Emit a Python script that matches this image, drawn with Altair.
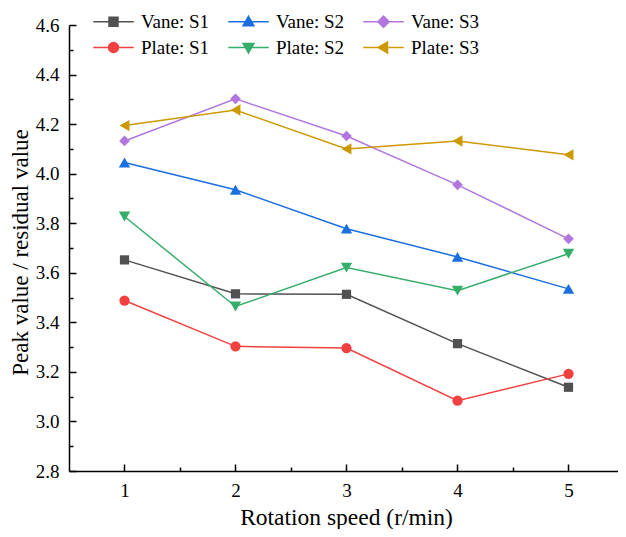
import altair as alt
import pandas as pd

speeds = [1, 2, 3, 4, 5]
series_names = ["Vane: S1", "Vane: S2", "Vane: S3", "Plate: S1", "Plate: S2", "Plate: S3"]
vane_s1 = [3.652, 3.515, 3.513, 3.314, 3.138]
vane_s2 = [4.045, 3.935, 3.778, 3.664, 3.535]
vane_s3 = [4.132, 4.302, 4.152, 3.955, 3.737]
plate_s1 = [3.488, 3.303, 3.296, 3.084, 3.192]
plate_s2 = [3.827, 3.464, 3.621, 3.528, 3.677]
plate_s3 = [4.194, 4.257, 4.100, 4.132, 4.076]
colors = ["#515151", "#1A6FDF", "#B177DE", "#F14040", "#37AD6B", "#CC9900"]
shapes = ["square", "triangle-up", "diamond", "circle", "triangle-down", "triangle-left"]
marker_sizes = [85, 130, 115, 105, 130, 130]
legend_paths = [
    "M-4.5,0H-1M1,0H4.5M-1,-1H1V1H-1Z",
    "M-4.5,0H-0.65M0.65,0H4.5M0,-1.2L1.2,0.9H-1.2Z",
    "M-4.5,0H-1.25M1.25,0H4.5M0,-1.25L1.25,0L0,1.25L-1.25,0Z",
    "M-4.5,0H-1.1M1.1,0H4.5M1.1,0A1.1,1.1,0,1,1,-1.1,0A1.1,1.1,0,1,1,1.1,0Z",
    "M-4.5,0H-0.65M0.65,0H4.5M0,1.2L1.2,-0.9H-1.2Z",
    "M-4.5,0H-1.1M1.1,0H4.5M-1.2,0L0.9,-1.2V1.2Z",
]
# legend entries fill column by column (2 rows), so interleave Vane / Plate
legend_order = [0, 3, 1, 4, 2, 5]
x_major = [1, 2, 3, 4, 5]
x_minor = [1.5, 2.5, 3.5, 4.5]
y_major = [2.8, 3.0, 3.2, 3.4, 3.6, 3.8, 4.0, 4.2, 4.4, 4.6]
y_minor = [2.9, 3.1, 3.3, 3.5, 3.7, 3.9, 4.1, 4.3, 4.5]

all_vals = [vane_s1, vane_s2, vane_s3, plate_s1, plate_s2, plate_s3]
rows = []
for name, vals in zip(series_names, all_vals):
    for s, v in zip(speeds, vals):
        rows.append({"speed": s, "value": v, "series": name})
df = pd.DataFrame(rows)

FONT = "Liberation Serif"
W, H = 549, 446
x_scale = alt.Scale(domain=[0.5, 5.446], nice=False, zero=False)
y_scale = alt.Scale(domain=[2.8, 4.6], nice=False, zero=False)

x_main = alt.X("speed:Q", scale=x_scale,
               axis=alt.Axis(orient="bottom", values=x_major, title="Rotation speed (r/min)", grid=False,
                             ticks=False, labelPadding=10, labelFontSize=19, labelFont=FONT,
                             labelColor="#000", titleFont=FONT, titleFontSize=23.5,
                             titleFontWeight="normal", titleColor="#000",
                             titleX=277, titleY=53, titleBaseline="alphabetic",
                             domainColor="#000", domainWidth=1.5))
y_main = alt.Y("value:Q", scale=y_scale,
               axis=alt.Axis(orient="left", values=y_major, format=".1f", title="Peak value / residual value",
                             grid=False, ticks=False, labelPadding=10, labelFontSize=19, labelFont=FONT,
                             labelColor="#000", titleFont=FONT, titleFontSize=23,
                             titleFontWeight="normal", titleColor="#000",
                             titleX=-49, titleY=H / 2 + 4, titleBaseline="middle", titleAngle=-90,
                             domainColor="#000", domainWidth=1.5))


def tick_axis(orient, vals, size):
    return alt.Axis(orient=orient, values=vals, title=None, labels=False, domain=False, grid=False,
                    ticks=True, tickSize={"expr": str(-size)}, tickColor="#000", tickWidth=1.5)


color_scale = alt.Scale(domain=series_names, range=colors)

lines = alt.Chart(df).mark_line(strokeWidth=1.5).encode(
    x=x_main, y=y_main,
    color=alt.Color("series:N", scale=color_scale, legend=None),
    detail="series:N",
)

point_layers = []
for i, (name, shp, sz) in enumerate(zip(series_names, shapes, marker_sizes)):
    if i == 0:
        xe = alt.X("speed:Q", scale=x_scale, axis=tick_axis("bottom", x_major, 7))
        ye = alt.Y("value:Q", scale=y_scale, axis=tick_axis("left", y_major, 7))
    else:
        xe = alt.X("speed:Q", scale=x_scale, axis=None)
        ye = alt.Y("value:Q", scale=y_scale, axis=None)
    point_layers.append(
        alt.Chart(df).transform_filter(alt.datum.series == name)
        .mark_point(filled=True, opacity=1, shape=shp, size=sz)
        .encode(x=xe, y=ye, color=alt.Color("series:N", scale=color_scale, legend=None))
    )

leg_domain = [series_names[i] for i in legend_order]
leg_colors = [colors[i] for i in legend_order]
leg_paths = [legend_paths[i] for i in legend_order]


def make_legend():
    return alt.Legend(orient="none", legendX=35, legendY=-13, columns=3,
                      symbolSize=81, symbolStrokeWidth=1.5, symbolOpacity=1,
                      labelFont=FONT, labelFontSize=19, labelColor="#000",
                      labelOffset=18, columnPadding=15, rowPadding=6, padding=0,
                      labelLimit=200)


legend_layer = alt.Chart(df).transform_filter("datum.speed < 0").mark_point(filled=True, opacity=1).encode(
    x=alt.X("speed:Q", scale=x_scale, axis=tick_axis("bottom", x_minor, 4)),
    y=alt.Y("value:Q", scale=y_scale, axis=tick_axis("left", y_minor, 4)),
    fill=alt.Fill("series:N", scale=alt.Scale(domain=leg_domain, range=leg_colors), title=None,
                  legend=make_legend()),
    stroke=alt.Stroke("series:N", scale=alt.Scale(domain=leg_domain, range=leg_colors), title=None,
                      legend=make_legend()),
    shape=alt.Shape("series:N", scale=alt.Scale(domain=leg_domain, range=leg_paths), title=None,
                    legend=make_legend()),
)

chart = alt.layer(lines, *point_layers, legend_layer).resolve_axis(
    x="independent", y="independent"
).properties(
    width=W, height=H,
    autosize=alt.AutoSizeParams(type="none"),
    padding={"left": 61, "top": 17, "right": 0, "bottom": 58},
).configure_view(stroke=None)

chart.save("out.html", embed_options={"renderer": "svg", "actions": False})
